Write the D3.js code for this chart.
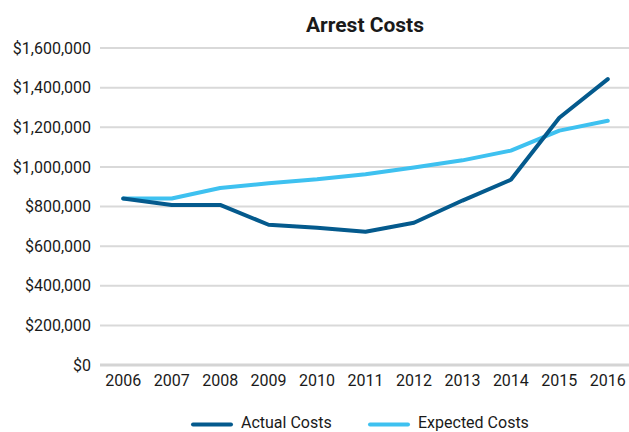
<!DOCTYPE html>
<html>
<head>
<meta charset="utf-8">
<script src="https://cdn.jsdelivr.net/npm/d3@7"></script>
<style>
  html, body { margin: 0; padding: 0; background: #ffffff; }
  svg { display: block; }
  text { font-family: Roboto, "Noto Sans", sans-serif; fill: #1a1a1a; }
</style>
</head>
<body>
<svg id="chart" width="629" height="432"></svg>
<script>
const years = ["2006","2007","2008","2009","2010","2011","2012","2013","2014","2015","2016"];
const actualCosts   = [840000, 808000, 808000, 708000, 693000, 673000, 718000, 830000, 935000, 1248000, 1443000];
const expectedCosts = [840000, 840000, 893000, 917000, 937000, 963000, 997000, 1033000, 1082000, 1183000, 1233000];
const yTicks = [0, 200000, 400000, 600000, 800000, 1000000, 1200000, 1400000, 1600000];
const seriesNames = ["Actual Costs", "Expected Costs"];
const seriesColors = ["#045a8d", "#3ec1f0"];
const title = "Arrest Costs";

const svg = d3.select("#chart");
const W = 629, H = 432;

const x = d3.scaleBand().domain(years).range([99, 632]).padding(0);
const xc = d => x(d) + x.bandwidth() / 2;
const y = d3.scaleLinear().domain([0, 1600000]).range([365, 48]);

// gridlines
svg.append("g").selectAll("line")
  .data(yTicks.filter(v => v > 0))
  .join("line")
  .attr("x1", 100).attr("x2", W)
  .attr("y1", d => y(d)).attr("y2", d => y(d))
  .attr("stroke", "#d9d9d9").attr("stroke-width", 2);

// baseline
svg.append("line")
  .attr("x1", 100).attr("x2", W)
  .attr("y1", y(0)).attr("y2", y(0))
  .attr("stroke", "#d4d4d4").attr("stroke-width", 3);

// y axis labels
const fmt = d3.format("$,");
const yAxis = d3.axisLeft(y).tickValues(yTicks).tickFormat(d => fmt(d)).tickSize(0).tickPadding(0);
const yg = svg.append("g").attr("transform", "translate(91,0)").call(yAxis);
yg.select(".domain").remove();
yg.selectAll("text").attr("font-size", 16).attr("fill", "#1a1a1a")
  .style("font-family", "Roboto, sans-serif");

// x axis labels
const xAxis = d3.axisBottom(x).tickSize(0).tickPadding(0);
const xg = svg.append("g").attr("transform", "translate(0,375)").call(xAxis);
xg.select(".domain").remove();
xg.selectAll("text").attr("font-size", 16).attr("fill", "#1a1a1a")
  .style("font-family", "Roboto, sans-serif");

// lines
const line = d3.line().x((d, i) => xc(years[i])).y(d => y(d));
[expectedCosts, actualCosts].forEach((vals, k) => {
  const idx = k === 0 ? 1 : 0;
  svg.append("path")
    .datum(vals)
    .attr("d", line)
    .attr("fill", "none")
    .attr("stroke", seriesColors[idx])
    .attr("stroke-width", 4)
    .attr("stroke-linejoin", "round")
    .attr("stroke-linecap", "round");
});

// title
svg.append("text")
  .attr("x", 365).attr("y", 32)
  .attr("text-anchor", "middle")
  .attr("font-size", 21).attr("font-weight", "bold")
  .attr("fill", "#000")
  .text(title);

// legend
const legendX = [193, 370];
const lg = svg.append("g");
seriesNames.forEach((name, i) => {
  lg.append("line")
    .attr("x1", legendX[i]).attr("x2", legendX[i] + 38)
    .attr("y1", 424.5).attr("y2", 424.5)
    .attr("stroke", seriesColors[i]).attr("stroke-width", 4)
    .attr("stroke-linecap", "round");
  lg.append("text")
    .attr("x", legendX[i] + 48).attr("y", 428)
    .attr("font-size", 16)
    .text(name);
});
</script>
</body>
</html>
